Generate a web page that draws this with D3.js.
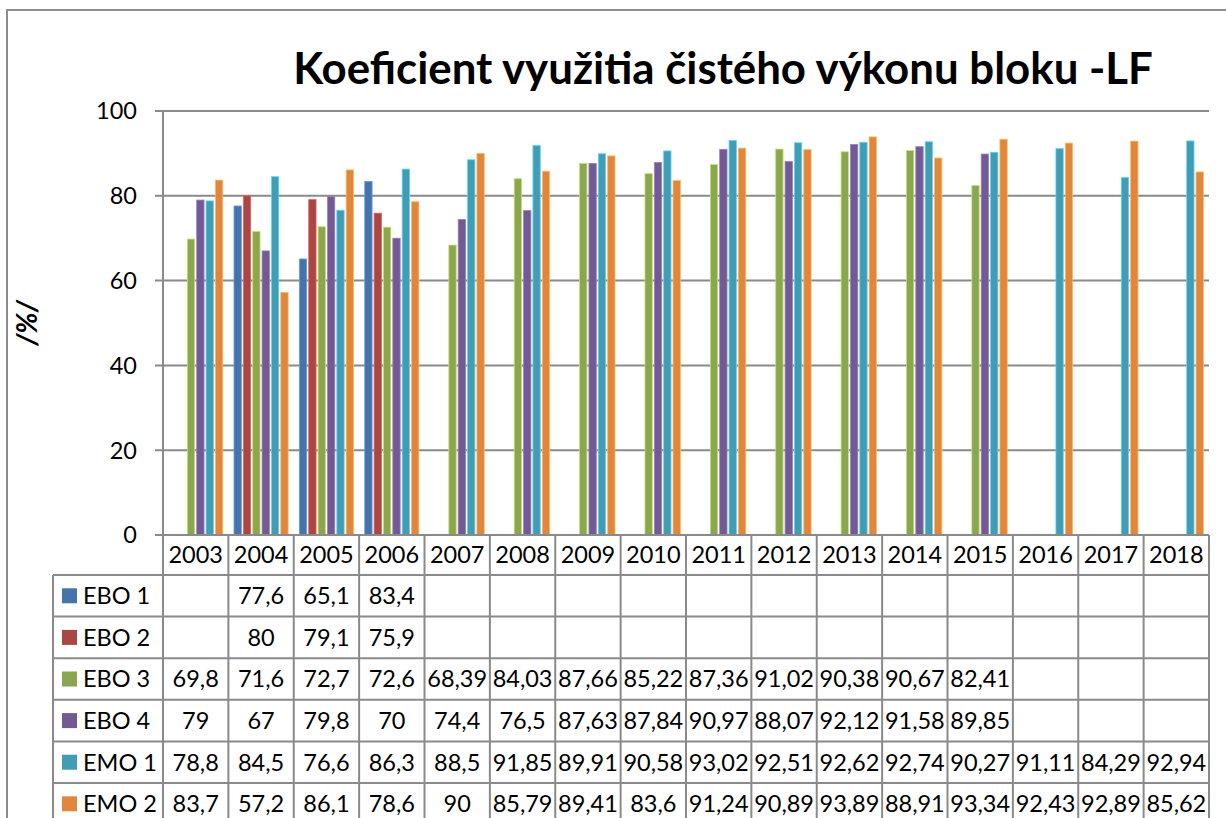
<!DOCTYPE html>
<html>
<head>
<meta charset="utf-8">
<script src="https://cdn.jsdelivr.net/npm/d3@7/dist/d3.min.js"></script>
<style>
  html, body { margin: 0; padding: 0; background: #fff; }
  svg { display: block; }
  text { font-family: Lato, "Open Sans", sans-serif; fill: #000; }
</style>
</head>
<body>
<svg id="chart" width="1226" height="818"></svg>
<script>
// ---- data ----
const years = ["2003","2004","2005","2006","2007","2008","2009","2010","2011","2012","2013","2014","2015","2016","2017","2018"];
const seriesNames = ["EBO 1","EBO 2","EBO 3","EBO 4","EMO 1","EMO 2"];
const ebo1 = [null,77.6,65.1,83.4,null,null,null,null,null,null,null,null,null,null,null,null];
const ebo2 = [null,80,79.1,75.9,null,null,null,null,null,null,null,null,null,null,null,null];
const ebo3 = [69.8,71.6,72.7,72.6,68.39,84.03,87.66,85.22,87.36,91.02,90.38,90.67,82.41,null,null,null];
const ebo4 = [79,67,79.8,70,74.4,76.5,87.63,87.84,90.97,88.07,92.12,91.58,89.85,null,null,null];
const emo1 = [78.8,84.5,76.6,86.3,88.5,91.85,89.91,90.58,93.02,92.51,92.62,92.74,90.27,91.11,84.29,92.94];
const emo2 = [83.7,57.2,86.1,78.6,90,85.79,89.41,83.6,91.24,90.89,93.89,88.91,93.34,92.43,92.89,85.62];
const seriesValues = [ebo1, ebo2, ebo3, ebo4, emo1, emo2];
const yTicks = [0,20,40,60,80,100];
const colors = ["#4573AA","#AA4644","#8BA64F","#735A93","#429CB4","#E0863E"];
const titleText = "Koeficient využitia čistého výkonu bloku -LF";
const yLabel = "/%/";

// ---- layout ----
const svg = d3.select("#chart");
const plotL = 163, plotR = 1209, plotT = 111, plotB = 535;
const legendL = 53;
const headerH = 40, rowH = 41.6;
const gridColor = "#8a8a8a";
const fs = 23.5;

const x = d3.scaleBand().domain(years).range([plotL, plotR]).paddingInner(0).paddingOuter(0);
const x1 = d3.scaleBand().domain(seriesNames).range([0, x.bandwidth()]).paddingInner(0.215).paddingOuter(0.6);
const y = d3.scaleLinear().domain([0, 100]).range([plotB, plotT]);

// outer frame
svg.append("path")
  .attr("d", `M7,818 L7,10 L1226,10`)
  .attr("fill", "none").attr("stroke", "#8c8c8c").attr("stroke-width", 2);

// title
const title = svg.append("text")
  .attr("x", 723).attr("y", 84)
  .attr("text-anchor", "middle")
  .style("font-weight", "bold").style("font-size", "36px")
  .text(titleText);
const tw = title.node().getComputedTextLength();
title.style("font-size", (36 * 860 / tw).toFixed(2) + "px");

// y axis label
svg.append("text")
  .attr("transform", "translate(37,323) rotate(-90)")
  .attr("text-anchor", "middle")
  .style("font-weight", "bold").style("font-style", "italic").style("font-size", "28px")
  .text(yLabel);

// gridlines + tick marks
svg.append("g").selectAll("line").data(yTicks.filter(d => d > 0)).join("line")
  .attr("x1", plotL - 8).attr("x2", plotR)
  .attr("y1", d => y(d)).attr("y2", d => y(d))
  .attr("stroke", gridColor).attr("stroke-width", 2);

// y tick labels
svg.append("g").selectAll("text").data(yTicks).join("text")
  .attr("x", 137).attr("y", d => y(d))
  .attr("dy", "0.36em")
  .attr("text-anchor", "end")
  .style("font-size", fs + "px")
  .text(d => d);

// bars
const barData = [];
seriesValues.forEach((vals, si) => {
  vals.forEach((v, yi) => {
    if (v !== null) barData.push({ s: seriesNames[si], si, year: years[yi], v });
  });
});
svg.append("g").selectAll("rect").data(barData).join("rect")
  .attr("x", d => x(d.year) + x1(d.s))
  .attr("width", x1.bandwidth())
  .attr("y", d => y(d.v))
  .attr("height", d => y(0) - y(d.v))
  .attr("fill", d => colors[d.si])
  .attr("stroke", d => d3.color(colors[d.si]).brighter(0.9))
  .attr("stroke-width", 0.8);

// axis line (y) and baseline
svg.append("line")
  .attr("x1", plotL).attr("x2", plotL).attr("y1", plotT).attr("y2", plotB)
  .attr("stroke", gridColor).attr("stroke-width", 2);
svg.append("line")
  .attr("x1", plotL - 8).attr("x2", plotR).attr("y1", plotB).attr("y2", plotB)
  .attr("stroke", gridColor).attr("stroke-width", 2);

// ---- data table ----
const tableTop = plotB;
const rowsTop = tableTop + headerH;
const tableBottom = rowsTop + rowH * seriesNames.length;
const tg = svg.append("g");

function fitCell(sel) {
  sel.each(function() {
    const w = this.getComputedTextLength();
    const maxW = x.bandwidth() - 5;
    if (w > maxW) d3.select(this).attr("textLength", maxW).attr("lengthAdjust", "spacingAndGlyphs");
  });
}

// header year labels
tg.selectAll("text.yr").data(years).join("text")
  .attr("class", "yr")
  .attr("x", d => x(d) + x.bandwidth() / 2)
  .attr("y", tableTop + headerH / 2)
  .attr("dy", "0.36em")
  .attr("text-anchor", "middle")
  .style("font-size", fs + "px")
  .text(d => d)
  .call(fitCell);

// horizontal lines
const hLines = d3.range(seriesNames.length + 1).map(i => rowsTop + i * rowH);
tg.selectAll("line.h").data(hLines).join("line")
  .attr("class", "h")
  .attr("x1", legendL).attr("x2", plotR)
  .attr("y1", d => d).attr("y2", d => d)
  .attr("stroke", gridColor).attr("stroke-width", 2);

// vertical lines
const vLines = years.map(d => x(d)).concat([plotR]);
tg.selectAll("line.v").data(vLines).join("line")
  .attr("class", "v")
  .attr("x1", d => d).attr("x2", d => d)
  .attr("y1", tableTop).attr("y2", tableBottom + 20)
  .attr("stroke", gridColor).attr("stroke-width", 2);
tg.append("line")
  .attr("x1", legendL).attr("x2", legendL)
  .attr("y1", rowsTop).attr("y2", tableBottom + 20)
  .attr("stroke", gridColor).attr("stroke-width", 2);

// legend cells
const leg = tg.selectAll("g.leg").data(seriesNames).join("g")
  .attr("class", "leg")
  .attr("transform", (d, i) => `translate(0,${rowsTop + i * rowH + rowH / 2})`);
leg.append("rect")
  .attr("x", 62).attr("y", -7.5).attr("width", 15).attr("height", 15)
  .attr("fill", (d, i) => colors[i]);
leg.append("text")
  .attr("x", 83).attr("dy", "0.36em")
  .style("font-size", fs + "px")
  .text(d => d);

// value cells
const fmt = v => String(v).replace(".", ",");
const cellData = [];
seriesValues.forEach((vals, si) => vals.forEach((v, yi) => {
  if (v !== null) cellData.push({ si, year: years[yi], v });
}));
tg.selectAll("text.val").data(cellData).join("text")
  .attr("class", "val")
  .attr("x", d => x(d.year) + x.bandwidth() / 2)
  .attr("y", d => rowsTop + d.si * rowH + rowH / 2)
  .attr("dy", "0.36em")
  .attr("text-anchor", "middle")
  .style("font-size", fs + "px")
  .text(d => fmt(d.v))
  .call(fitCell);
</script>
</body>
</html>
